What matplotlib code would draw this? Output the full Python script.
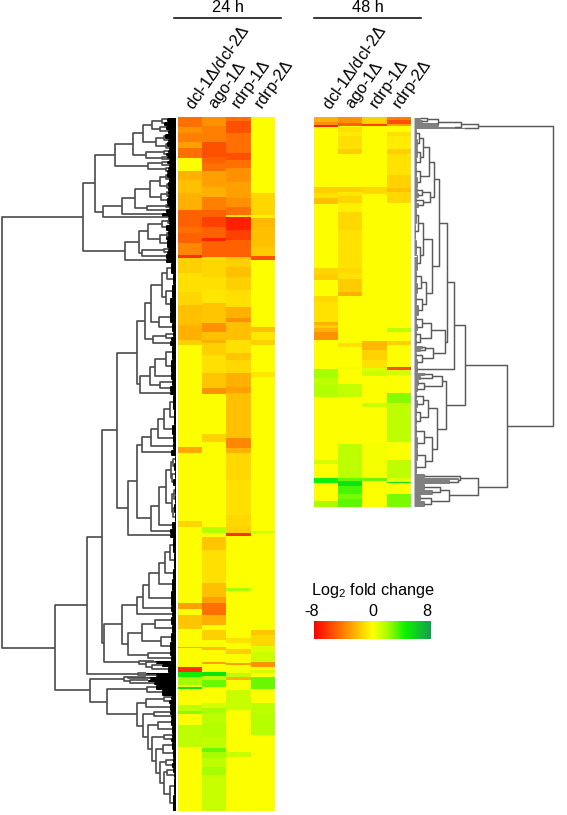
import numpy as np
import matplotlib
matplotlib.use("Agg")
import matplotlib.pyplot as plt
from matplotlib.collections import LineCollection
from matplotlib.colors import LinearSegmentedColormap

plt.rcParams['font.family'] = ['Liberation Sans', 'DejaVu Sans']
plt.rcParams['mathtext.fontset'] = 'custom'
plt.rcParams['mathtext.it'] = 'Liberation Sans:italic'
plt.rcParams['mathtext.rm'] = 'Liberation Sans'

W, H = 567, 815

samples = [r'dcl-1$\mathit{\Delta}$/dcl-2$\mathit{\Delta}$', r'ago-1$\mathit{\Delta}$',
           r'rdrp-1$\mathit{\Delta}$', r'rdrp-2$\mathit{\Delta}$']
timepoints = ['24 h', '48 h']
legend_title = r'Log$_2$ fold change'
legend_ticks = [-8, 0, 8]

# Heatmap columns: gene index where each run of equal values ends, and the log2 fold change of the run.
FIRST_GENE_24 = 117
dcl_24_ends = [127,133,142,148,158,171,180,193,210,227,233,243,255,258,273,292,305,325,340,345,447,453,521,527,603,609,615,629,647,648,667,672,677,685,687,689,705,711,714,725,747,811]
dcl_24_vals = [-4.5,-3.5,-4,-3,-4.5,0,-2.5,-2,-2.5,-5,-4.5,-5,-3.8,-6.5,-1.5,-1,-1.3,-2,-2.5,-1.5,0,-2.7,0,-1.3,0,-3,0,-1.8,0,-2.5,0,-6.5,4.5,2,0.5,5,0,1.5,2.5,0,1.5,0]
ago_24_ends = [126,142,157,163,171,187,197,210,217,227,238,241,257,260,277,290,303,323,332,340,343,355,373,388,394,434,442,527,533,537,550,583,597,603,615,625,630,640,647,650,662,664,672,676,680,687,703,708,713,723,737,748,752,758,767,775,811]
ago_24_vals = [-3.5,-4,-5.5,-5,-4.5,-3,-2.5,-4,-5,-6,-5,-7,-5,-1,-1.3,-1,-0.8,-1.8,-3.5,-2,-2.5,-1.5,-1,-1.8,-3.4,0,-1.4,0,1.8,0,-1.8,-1,-2,-3,-4.5,-2.5,0,-1.5,0,-2,0,-3,0,5,1.5,3,0,1,2,1.6,1.8,1.5,3,2,1.5,2,1.3]
rdrp1_24_ends = [121,133,142,153,160,168,182,198,207,215,217,230,240,257,259,267,277,290,307,318,322,340,353,360,373,387,393,438,448,453,480,515,527,533,536,588,591,638,643,649,654,663,665,673,677,680,690,710,752,757,811]
rdrp1_24_vals = [-4.5,-5.5,-4.5,-4.5,-5.5,-4.5,-3.5,-3,-3.5,-4.5,-1,-7,-6,-5,-2,-1.5,-2,-1.5,-1,-2.5,-3.5,-2,-1,-1.8,-1.2,-2.5,-3,-2,-3.8,-2.5,-1.2,-1,-1.2,-1.5,-6.5,0,2,0,-1,0,-1.5,0,-3,0.2,1.5,-2.5,0,1.3,0,1.3,0]
rdrp2_24_ends = [193,215,218,227,247,256,260,327,332,340,345,372,377,531,533,630,635,646,652,662,667,670,673,677,689,703,713,735,811]
rdrp2_24_vals = [0,-1.3,-0.5,-2.2,-2,-1.6,-5.5,0,-2,-0.7,-1.5,0,-0.8,0,1.2,0,-1.8,-1.2,0.8,1.2,-3.5,0,1,0,3,0,1.5,1.7,0]

FIRST_GENE_48 = 117
dcl_48_ends = [122,125,127,187,193,198,204,268,274,280,296,302,322,325,328,332,340,369,378,385,397,460,464,478,483,501,507]
dcl_48_vals = [-2.5,-3.5,-7,0,-1.5,-1,-2,0,-1.3,-1.6,0,-1.2,-0.9,-2.5,-1.6,-2.5,-3.5,0,2,1.5,1.8,0,1,0,4.5,0,2]
ago_48_ends = [123,126,127,132,136,149,154,187,192,196,203,212,230,268,273,279,292,296,343,347,367,369,373,384,397,444,478,481,486,494,499,507]
ago_48_vals = [-3.5,-5,0,-1,-0.6,-1,-1.5,0,-1.5,-0.8,-1.3,-0.5,-1.2,-0.9,-1.2,-0.9,-1.6,-2.5,0,-1,0,0.3,0,0,1.4,0,1.5,3,5,3.5,2.8,3.2]
rdrp1_48_ends = [123,124,126,187,194,341,350,360,368,371,376,403,407,443,478,481,507]
rdrp1_48_vals = [-1.5,-2,-6,0,-1.2,0,-2.2,-1.4,-1,0.8,1.2,0,1.2,0,0.2,3,0]
rdrp2_48_ends = [120,124,126,132,136,149,154,175,188,192,203,328,332,341,345,367,370,375,393,403,442,460,478,482,483,494,507]
rdrp2_48_vals = [-4,-5.5,-3,0,-1,-0.6,-1.5,-0.9,-1.4,-2,-1.2,0,1.5,0,-1.5,0,-5.5,1,0,2.5,1.5,0,1.5,0.6,5,0,2.8]


def N(h, a, b):
    return [h, a, b]


def L(n, h):
    return (n, h)


# Left tree (24 h): merge heights and gene counts per terminal cluster.
t_a = N(33, N(24, N(14, L(4, 9), L(4, 12)), N(16, L(4, 10), L(4, 8))),
        N(20, N(12, L(5, 11), L(3, 8)), N(10, L(5, 9), L(3, 7))))
t_b = N(43, t_a, N(30, N(12, L(3, 8), L(3, 10)), N(14, L(3, 9), L(2, 7))))
t_c = N(61, t_b, N(28, N(14, L(3, 9), L(3, 7)), N(10, L(3, 8), L(3, 9))))
t_d = N(41, N(26, N(16, N(10, L(5, 9), L(4, 7)), N(9, L(5, 8), L(4, 8))),
              N(15, N(9, L(4, 8), L(3, 8)), L(6, 9))),
        N(29, N(10, L(3, 9), L(2, 7)), L(4, 10)))
t_e = N(73, N(54, t_d, L(4, 14)), L(2, 8))
t_f = N(81, t_c, t_e)
t_g = N(51, N(37, N(28, N(14, N(8, L(3, 8), L(3, 7)), L(6, 10)),
                    N(16, N(9, L(5, 8), L(4, 10)), L(8, 9))),
              N(34, N(12, L(3, 8), L(3, 9)), L(5, 10))), L(4, 10))
top_tree = N(93, t_f, t_g)

m_a = N(31, N(25, N(14, N(9, L(11, 5), L(11, 3)), N(10, L(13, 4), L(14, 6))),
              N(17, L(11, 6), L(9, 4))),
        N(23, N(10, L(5, 3), L(4, 5)), L(5, 6)))
m_b = N(36, N(26, N(21, N(10, L(14, 4), L(13, 5)), L(7, 5)), N(16, L(6, 4), L(6, 6))), L(3, 6))
m_c = N(39, m_a, m_b)
m_d = N(34, N(25, N(18, N(12, N(6, L(15, 3), L(15, 2)), L(10, 4)), L(8, 3)), L(7, 3)), L(6, 5))
m_e = N(25, N(17, N(10, N(5, N(3, L(7, 1), L(8, 2)), N(4, L(8, 1), L(7, 3))),
                    N(4, N(2, L(9, 1), L(9, 1)), N(3, L(9, 2), L(9, 1)))), L(7, 4)), L(5, 6))
m_f = N(48, N(39, m_d, m_e), L(4, 6))
m_g = N(59, m_c, m_f)

n_a = N(39, N(33, N(27, N(17, N(11, N(6, L(15, 3), L(16, 2)), L(10, 3)), L(12, 4)), L(15, 5)), L(6, 5)), L(5, 4))
n_b = N(48, N(34, N(21, L(8, 5), L(8, 4)), N(15, L(9, 5), L(9, 6))), N(28, L(5, 6), L(5, 5)))
n_c = N(37, L(1, 22), N(30, L(2, 20), N(24, L(3, 14), L(6, 8))))
n_d = N(72, N(54, n_a, n_b), n_c)
n_e = N(89, N(74, m_g, n_d), N(38, L(2, 30), L(2, 20)))

b_a = N(52, N(48, L(1, 30), L(2, 26)), N(46, L(2, 28), L(3, 22)))
b_b = N(12, N(9, L(5, 3), L(5, 2)), N(6, L(17, 2), L(17, 3)))
b_c = N(16, N(10, L(5, 3), L(5, 4)), b_b)
b_d = N(24, N(12, L(4, 4), L(4, 5)), N(20, N(13, L(8, 4), L(8, 3)), b_c))
b_e = N(33, N(22, L(4, 6), L(4, 5)), N(28, N(18, L(7, 5), L(8, 4)), b_d))
b_f = N(39, N(30, N(12, L(4, 5), L(4, 7)), L(7, 6)), b_e)
b_g = N(86, b_a, N(69, N(29, L(5, 20), L(6, 14)), b_f))
tree_24 = N(174, top_tree, N(121, n_e, b_g))

# Right tree (48 h)
r_top = N(64, N(47, N(24, N(13, L(2, 6), L(3, 8)), L(4, 24)), L(1, 40)), L(1, 50))
r_a = N(15, N(9, N(5, L(10, 2), L(9, 3)), N(6, L(10, 3), L(9, 2))), N(6, L(10, 2), L(11, 3)))
r_b = N(20, r_a, N(16, N(8, L(5, 3), L(5, 4)), N(9, L(5, 2), L(5, 4))))
r_c = N(18, N(9, N(4, L(16, 2), L(16, 1)), N(6, L(16, 2), L(15, 3))),
        N(12, N(7, L(12, 2), L(11, 3)), N(8, L(11, 2), L(11, 4))))
r_d = N(25, r_b, r_c)
r_e = N(31, N(17, N(8, L(8, 2), L(7, 3)), N(6, L(8, 2), L(7, 2))),
        N(19, N(11, L(3, 8), L(3, 6)), N(8, L(7, 2), L(7, 3))))
r_f = N(40, N(33, r_d, r_e), L(7, 3))
r_g = N(32, N(28, N(18, L(4, 10), L(4, 6)), N(10, L(6, 4), L(6, 3))),
        N(23, N(14, N(9, L(8, 2), L(8, 3)), N(6, L(9, 2), L(8, 2))),
          N(18, N(10, L(12, 2), L(12, 3)), N(11, L(12, 3), L(13, 2)))))
r_h = N(64, N(46, L(4, 10), N(44, L(2, 44), L(4, 35))),
        N(35, N(26, L(6, 10), L(5, 18)), N(17, L(6, 6), L(6, 10))))
tree_48 = N(139, r_top, N(93, N(51, r_f, r_g), r_h))

cmap = LinearSegmentedColormap.from_list('fc', [(0.0, '#ff0000'), (0.5, '#ffff00'),
                                                (0.625, '#aaff00'), (0.78, '#10f000'),
                                                (1.0, '#10a050')])


def column(ends, vals, first):
    counts = np.diff(np.r_[first, ends])
    return np.repeat(vals, counts)


def px_axes(fig, x0, y0, x1, y1):
    return fig.add_axes([x0 / W, 1 - y1 / H, (x1 - x0) / W, (y1 - y0) / H])


def walk(node, start, segs, leaf_segs):
    if isinstance(node, tuple):
        n, h = node
        for i in range(n):
            leaf_segs.append([(h, start + i + .5), (0, start + i + .5)])
        if n > 1:
            leaf_segs.append([(h, start + .5), (h, start + n - .5)])
        return start + n / 2, h, start + n
    h, a, b = node
    ya, ha, nxt = walk(a, start, segs, leaf_segs)
    yb, hb, nxt = walk(b, nxt, segs, leaf_segs)
    segs.append([(ha, ya), (h, ya), (h, yb), (hb, yb)])
    return (ya + yb) / 2, h, nxt


def draw_tree(ax, tree, nrows, xlim, lc, leaf_c, lw):
    segs, leaf = [], []
    walk(tree, 0, segs, leaf)
    ax.add_collection(LineCollection(leaf, colors=leaf_c, linewidths=0.75))
    ax.add_collection(LineCollection(segs, colors=lc, linewidths=lw))
    ax.set_xlim(*xlim)
    ax.set_ylim(nrows, 0)
    ax.axis('off')


def heat(ax, columns):
    m = np.column_stack(columns)
    ax.imshow(m, cmap=cmap, vmin=-8, vmax=8, aspect='auto', interpolation='nearest')
    ax.axis('off')


fig = plt.figure(figsize=(W / 100, H / 100), dpi=100)

cols24 = [column(dcl_24_ends, dcl_24_vals, FIRST_GENE_24), column(ago_24_ends, ago_24_vals, FIRST_GENE_24),
          column(rdrp1_24_ends, rdrp1_24_vals, FIRST_GENE_24), column(rdrp2_24_ends, rdrp2_24_vals, FIRST_GENE_24)]
cols48 = [column(dcl_48_ends, dcl_48_vals, FIRST_GENE_48), column(ago_48_ends, ago_48_vals, FIRST_GENE_48),
          column(rdrp1_48_ends, rdrp1_48_vals, FIRST_GENE_48), column(rdrp2_48_ends, rdrp2_48_vals, FIRST_GENE_48)]

heat(px_axes(fig, 178, 117, 275, 811), cols24)
heat(px_axes(fig, 314, 117, 411, 507), cols48)

draw_tree(px_axes(fig, 0, 117, 176, 811), tree_24, len(cols24[0]), (176, 0), '#4a4a4a', '#000000', 1.2)
draw_tree(px_axes(fig, 414, 117, 567, 507), tree_48, len(cols48[0]), (0, 153), '#5a5a5a', '#808080', 1.05)

# time-point brackets and titles
for (x0, x1), t in zip([(174, 281), (314, 421)], timepoints):
    fig.add_artist(plt.Line2D([x0 / W, x1 / W], [1 - 18 / H] * 2, color='black', lw=1.1))
    fig.text((x0 + x1) / 2 / W, 1 - 8 / H, t, ha='center', va='center', fontsize=11.8)

# rotated sample labels
for xs in ([189, 212, 235.5, 258.5], [326, 349.5, 373, 396]):
    for x, s in zip(xs, samples):
        fig.text(x / W, 1 - 108 / H, s, rotation=55, rotation_mode='anchor',
                 ha='left', va='center', fontsize=11.8)

# colour key
cax = px_axes(fig, 314, 621, 431, 639)
cax.imshow(np.linspace(-8, 8, 256)[None, :], cmap=cmap, vmin=-8, vmax=8, aspect='auto',
           extent=[-8, 8, 0, 1])
cax.axis('off')
fig.text(372.5 / W, 1 - 590 / H, legend_title, ha='center', va='center', fontsize=11.7)
for v, x in zip(legend_ticks, [312, 373, 427]):
    fig.text(x / W, 1 - 611 / H, str(v), ha='center', va='center', fontsize=11.7)

fig.savefig('out.png', dpi=100)
